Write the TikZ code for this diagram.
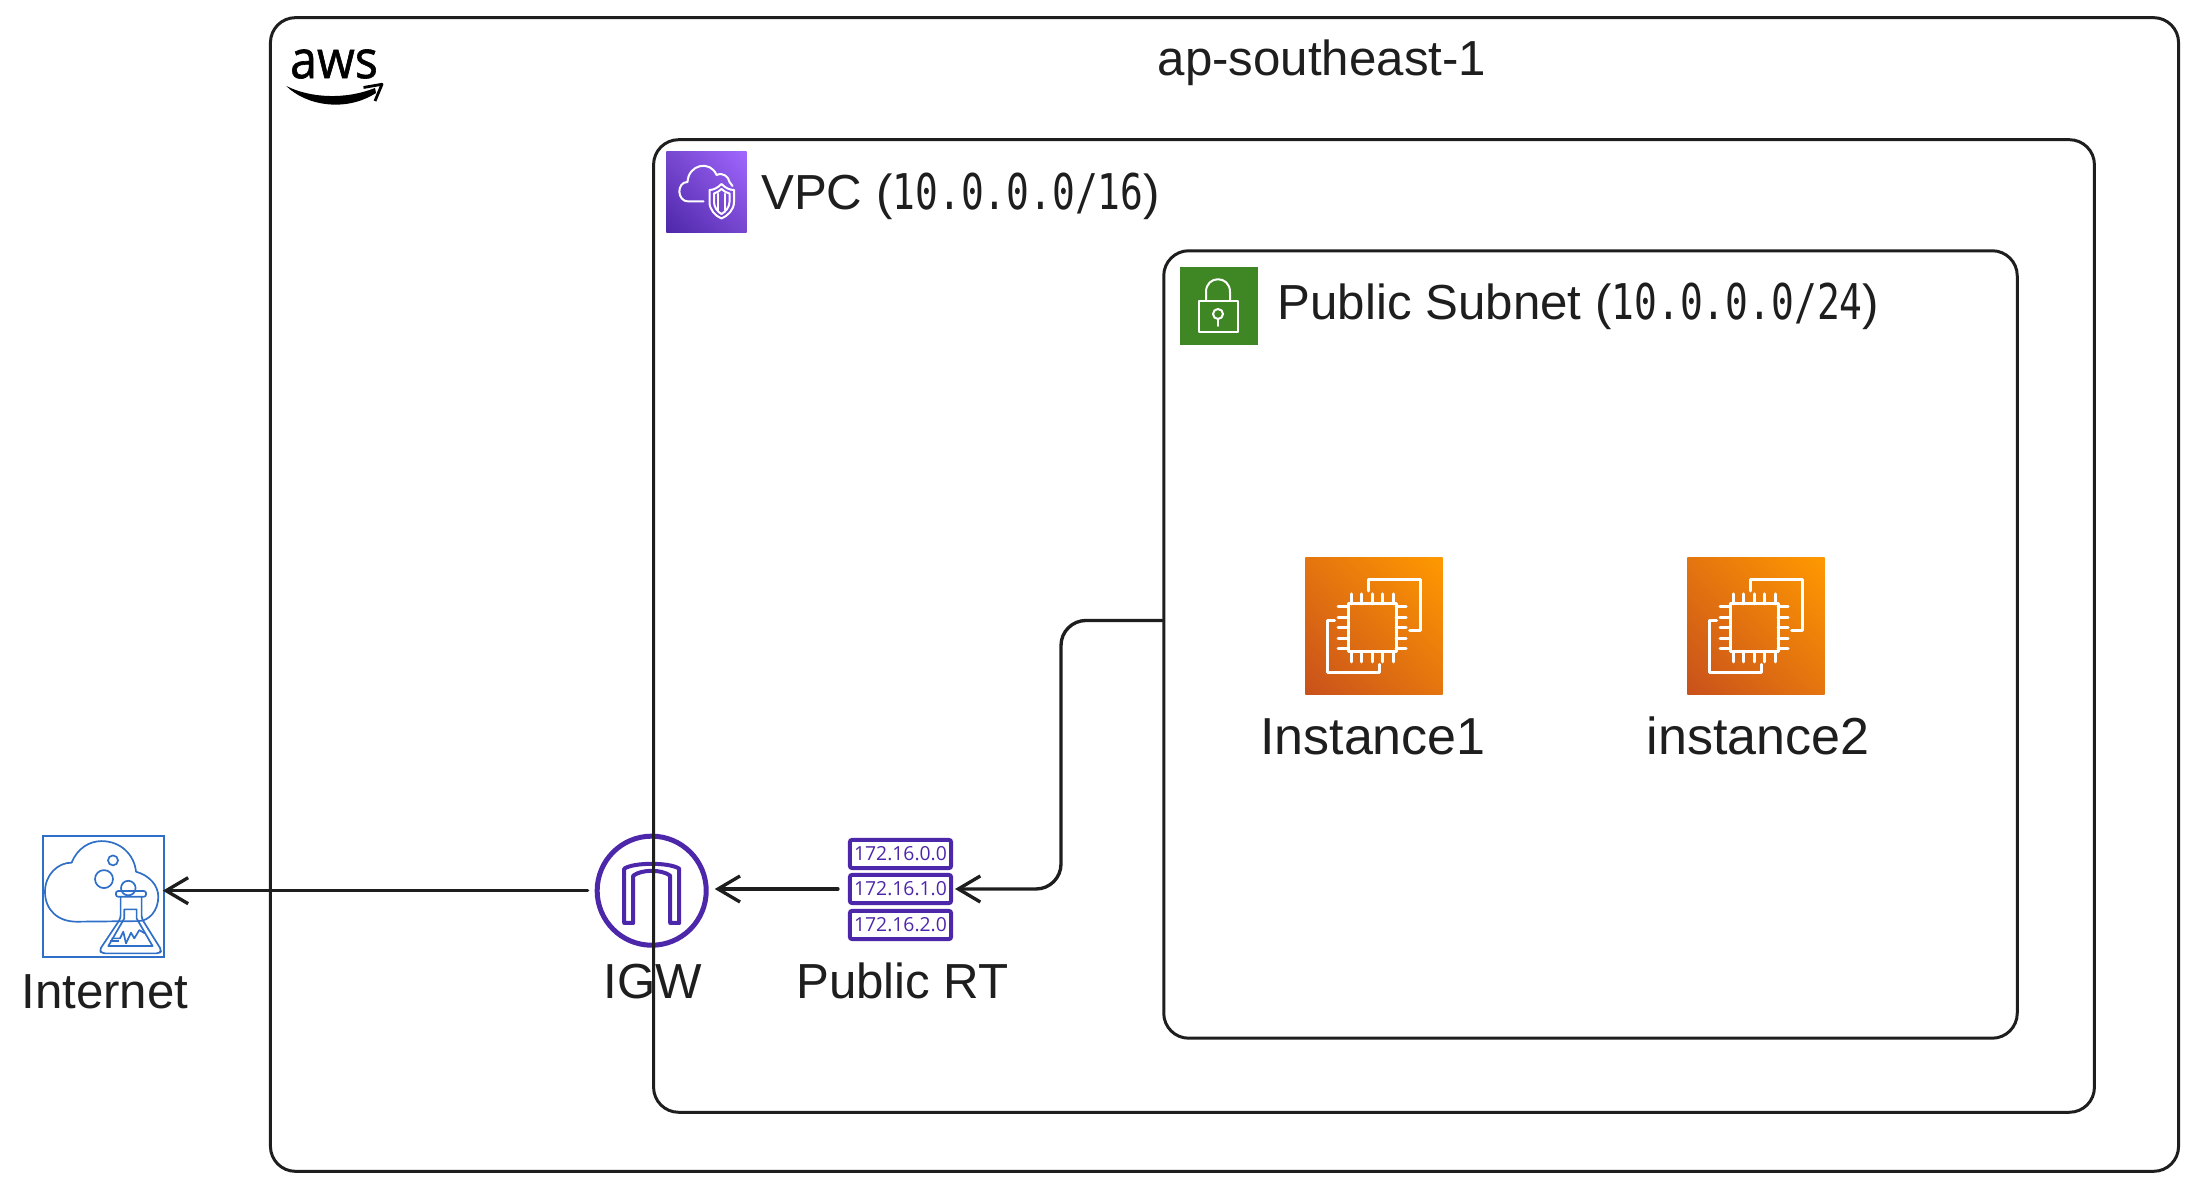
\documentclass[tikz,border=0pt]{standalone}
\usepackage{fontspec}
\setmainfont{Liberation Sans}
\newfontfamily\figfont[FakeStretch=0.77]{DejaVu Sans Mono}
\newfontfamily\netfont{Open Sans}
\newfontfamily\awsfont[FakeBold=1.2]{Open Sans}
\usetikzlibrary{positioning,arrows.meta,shadings}
\definecolor{ink}{HTML}{1E1E1E}
\definecolor{igwpurple}{HTML}{4D27AA}
\definecolor{vpclow}{HTML}{4D27AA}
\definecolor{vpcmid}{HTML}{7747CF}
\definecolor{vpchigh}{HTML}{A166FF}
\definecolor{ec2low}{HTML}{C8511B}
\definecolor{ec2mid}{HTML}{E4750F}
\definecolor{ec2high}{HTML}{FF9900}
\definecolor{subnetgreen}{HTML}{3F8624}
\definecolor{netblue}{HTML}{2F6FC8}
\tikzset{
	zone/.style={rectangle, draw=ink, line width=.85pt, rounded corners=.25cm, inner sep=0},
	flow/.style={-{Straight Barb[length=.22cm,width=.26cm]}, draw=ink, line width=.95pt, line cap=round},
	caption/.style={font=\fontsize{14}{16}\selectfont, text=ink, inner sep=0},
	ec2box/.style={rectangle, inner sep=0, outer sep=0, minimum size=1.37cm, lower left=ec2low, upper right=ec2high, upper left=ec2mid, lower right=ec2mid},
	rtrow/.style={rectangle, draw=igwpurple, line width=.04cm, rounded corners=.02cm, inner sep=0, minimum width=1.01cm, minimum height=.28cm, text=igwpurple, font=\netfont\fontsize{5.5}{6}\selectfont},
	whiteline/.style={draw=white, line width=.03cm, line cap=round, line join=round},
	blueline/.style={draw=netblue, line width=.017cm, line join=round},
}
\begin{document}
\begin{tikzpicture}[x=.01cm,y=-.01cm]
	\useasboundingbox (0,0) rectangle (2199,1192);

	\node[rectangle, draw=netblue, line width=.017cm, inner sep=0, outer sep=0, minimum width=1.21cm, minimum height=1.21cm] (internet) at (103.3,896.4) {};
	\begin{scope}[shift={(internet.center)}]
		\draw[blueline] (-26.7,25.3) .. controls (-45,25.3) and (-58.3,14) .. (-58.3,-4.7) .. controls (-58.3,-22) and (-45,-34) .. (-31.7,-33.7) .. controls (-26,-48) and (-14,-55.3) .. (-1.7,-55.3) .. controls (17,-55.3) and (31,-42) .. (32.7,-24.7) .. controls (46,-21) and (55,-11) .. (55,0.3) .. controls (55,14) and (46,24.7) .. (35,24.7) -- cycle;
		\draw[blueline] (9.7,-36) circle (5);
		\draw[blueline] (0.7,-17.3) circle (9);
		\draw[blueline] (25,-8.3) circle (7.3);
		\draw[blueline, rounded corners=.02cm] (12.7,-5.3) rectangle (42.7,0.3);
		\draw[blueline, rounded corners=.03cm] (17.3,0.3) -- (17.3,22) -- (-4,54) -- (-1,57) -- (56,57) -- (58.3,54) -- (38.3,22) -- (38.3,0.3);
		\draw[blueline] (21,22) -- (21,13) -- (33.3,13) -- (33.3,22) -- (49.3,49.7) -- (5,49.7) -- cycle;
		\draw[blueline] (8.3,42) -- (16.7,42) -- (20,35.3) -- (22.7,47) -- (27.7,36.3) -- (31,42) -- (36,33.7) -- (41.7,37);
		\draw[blueline] (6.7,44.7) -- (16,44.7);
	\end{scope}
	\node[caption, below=.17cm of internet, xshift=.016cm] (internetlabel) {Internet};

	\node[circle, draw=igwpurple, line width=.05cm, inner sep=0, minimum size=1.09cm] (igw) at (651.7,890.7) {};
	\begin{scope}[shift={(igw.center)}]
		\draw[draw=igwpurple, line width=.04cm, line join=round] (-27.5,32.3) -- (-27.5,-22) .. controls (-18,-28.5) and (18,-28.5) .. (27.5,-22) -- (27.5,32.3) -- (18.5,32.3) -- (18.5,-15) .. controls (10,-21.5) and (-10,-21.5) .. (-18.5,-15) -- (-18.5,32.3) -- cycle;
	\end{scope}
	\node[caption, below=.16cm of igw, xshift=.014cm] (igwlabel) {IGW};

	\foreach \i/\rowy in {0/854,1/889,2/925} {
		\node[rtrow] (rt\i) at (900.5,\rowy) {172.16.\i.0};
	}
	\node[caption, below=.21cm of rt2, xshift=.02cm] (rtlabel) {Public RT};

	\node[rectangle, inner sep=0, outer sep=0, minimum size=.8cm, lower left=vpclow, upper right=vpchigh, upper left=vpcmid, lower right=vpcmid] (vpcicon) at (706.5,192) {};
	\begin{scope}[shift={(vpcicon.center)}, every path/.style={whiteline, line width=.02cm}]
		\draw (-3,9.5) -- (-18,9.5) .. controls (-30,9.5) and (-30,-10) .. (-19,-10) .. controls (-18,-28) and (4,-32) .. (10,-17) .. controls (17,-20) and (22,-15) .. (23,-10) -- (26,-6);
		\draw (15,-8) .. controls (11,-4) and (7,-2) .. (3,-2) -- (3,10) .. controls (3,18) and (9,24) .. (15,26.5) .. controls (21,24) and (27.5,18) .. (27.5,10) -- (27.5,-2) .. controls (23,-2) and (19,-4) .. (15,-8);
		\draw (15,-3) .. controls (13,-1) and (10,1) .. (7.5,1.5) -- (7.5,10) .. controls (7.5,15) and (11,20) .. (15,22) .. controls (19,20) and (23,15) .. (23,10) -- (23,1.5) .. controls (20,1) and (17,-1) .. (15,-3);
		\draw (11.5,2) -- (11.5,18);
		\draw (18.5,2) -- (18.5,18);
	\end{scope}
	\node[caption, right=.14cm of vpcicon, yshift=-.04cm] (vpclabel) {VPC ({\figfont 10.0.0.0/16})};

	\node[rectangle, inner sep=0, outer sep=0, fill=subnetgreen, minimum size=.78cm] (subneticon) at (1219,306) {};
	\begin{scope}[shift={(subneticon.center)}, every path/.style={whiteline, line width=.02cm}]
		\draw (-20,-5) rectangle (19,26);
		\draw (-13,-5) -- (-13,-14) .. controls (-13,-31) and (11,-31) .. (11,-14) -- (11,-5);
		\draw (-1,8) circle (5);
		\draw (-1,13) -- (-1,20);
	\end{scope}
	\node[caption, right=.19cm of subneticon] (subnetlabel) {Public Subnet ({\figfont 10.0.0.0/24})};

	\node[ec2box] (inst1) at (1374,626) {};
	\node[ec2box] (inst2) at (1756,626) {};
	\foreach \inst in {inst1,inst2} {
		\begin{scope}[shift={(\inst.center)}]
			\draw[whiteline] (-5.6,-35) -- (-5.6,-46.7) -- (46.8,-46.7) -- (46.8,5) -- (35.6,5);
			\draw[whiteline] (-39.5,-5.3) -- (-46.8,-5.3) -- (-46.8,46.4) -- (5.6,46.4) -- (5.6,38.4);
			\draw[whiteline] (-26,-22) rectangle (22,26);
			\foreach \p in {-21,-10.5,0,10.5,21} {
				\draw[whiteline] (-2+\p,-22) -- (-2+\p,-32);
				\draw[whiteline] (-2+\p,26) -- (-2+\p,36);
				\draw[whiteline] (-26,2+\p) -- (-36,2+\p);
				\draw[whiteline] (22,2+\p) -- (32,2+\p);
			}
		\end{scope}
	}
	\node[caption, font=\fontsize{14.8}{16}\selectfont, below=.23cm of inst1, xshift=-.01cm] (inst1label) {Instance1};
	\node[caption, font=\fontsize{14.8}{16}\selectfont, below=.22cm of inst2, xshift=.02cm] (inst2label) {instance2};

	\node[zone, minimum width=19.07cm, minimum height=11.53cm] (region) at (1224.5,594.5) {};
	\node[zone, minimum width=14.40cm, minimum height=9.72cm] (vpc) at (1374,626) {};
	\node[zone, minimum width=8.53cm, minimum height=7.87cm] (subnet) at (1590.5,644.5) {};
	\node[caption] (regionlabel) at (1322,63) {ap-southeast-1};

	\node[inner sep=0, xscale=.92, font=\awsfont\fontsize{15}{16}\selectfont] (awslogo) at (334,64) {aws};
	\fill (286.3,86) .. controls (305,105) and (345,113) .. (376,93) -- (375,88) .. controls (345,100) and (310,98) .. cycle;
	\draw[line width=.8pt, line join=round] (363.5,87.5) -- (382,84.3) -- (375,101);

	\coordinate (subnetout) at ([yshift=.24cm]subnet.west);
	\coordinate (rtdrop) at (1061,889);
	\draw[flow, rounded corners=.25cm, shorten >=.02cm] (subnetout) -| (rtdrop) -- (rt1.east);
	\draw[flow, shorten <=.1cm, shorten >=.06cm] (rt1.west) -- (rt1.west -| igw.east);
	\draw[flow, shorten <=.07cm, shorten >=-.01cm] (igw.west) -- (igw.west -| internet.east);
\end{tikzpicture}
\end{document}
